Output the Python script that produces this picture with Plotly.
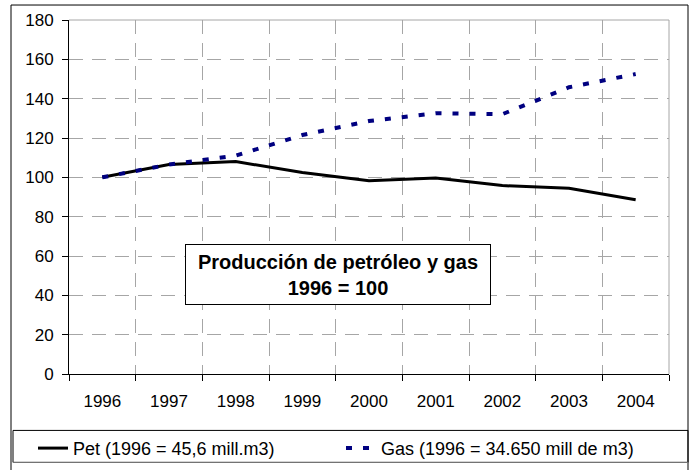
import plotly.graph_objects as go

# Production index, base year 1996 = 100
years = ["1996", "1997", "1998", "1999", "2000", "2001", "2002", "2003", "2004"]
pet = [100, 106.5, 108, 102.5, 98.3, 99.6, 95.8, 94.4, 88.6]
gas = [100, 106.5, 111, 121.5, 128.6, 132.6, 132.1, 145.8, 152.5]

pet_name = "Pet (1996 = 45,6 mill.m3)"
gas_name = "Gas (1996 = 34.650 mill de m3)"
box_title = "<b>Producción de petróleo y gas</b><br><b>1996 = 100</b>"

W, H = 691, 470
L, R, T, B = 69, 669, 20, 374.5   # plot area in page pixels


def px(x):
    return (x - L) / (R - L)


def py(y):
    return (B - y) / (B - T)


FONT = "Liberation Sans"
GRID = "#a6a6a6"

fig = go.Figure()
fig.add_trace(go.Scatter(x=years, y=pet, name=pet_name, mode="lines",
                         line=dict(color="black", width=3)))
fig.add_trace(go.Scatter(x=years, y=gas, name=gas_name, mode="lines",
                         line=dict(color="#000080", width=4, dash="6px,11px")))

shapes = [
    # outer chart frame
    dict(type="rect", xref="paper", yref="paper", x0=px(11), x1=px(688),
         y0=py(5), y1=py(485), line=dict(color="black", width=1)),
    # plot area border (top and right)
    dict(type="line", xref="paper", yref="paper", x0=0, x1=1, y0=1, y1=1,
         line=dict(color=GRID, width=1)),
    dict(type="line", xref="paper", yref="paper", x0=1, x1=1, y0=0, y1=1,
         line=dict(color=GRID, width=1)),
    # legend frame
    dict(type="rect", xref="paper", yref="paper", x0=px(13), x1=px(688),
         y0=py(463), y1=py(431), line=dict(color="black", width=1)),
    dict(type="line", xref="paper", yref="paper", x0=px(13), x1=px(688),
         y0=py(463), y1=py(463), line=dict(color="#808080", width=1)),
]

fig.add_annotation(
    text=box_title, xref="paper", yref="paper",
    x=px(338), y=py(274.5), xanchor="center", yanchor="middle",
    showarrow=False, align="center",
    width=304, height=59, borderpad=0,
    bordercolor="black", borderwidth=1, bgcolor="white",
    font=dict(family=FONT, size=20, color="black"),
)

fig.update_layout(
    width=W, height=H,
    margin=dict(l=L, r=W - R, t=T, b=H - B, pad=0, autoexpand=False),
    paper_bgcolor="white", plot_bgcolor="white",
    font=dict(family=FONT, size=17, color="black"),
    shapes=shapes,
    showlegend=True,
    legend=dict(orientation="h", x=px(33), y=py(449), xanchor="left",
                yanchor="middle", bgcolor="rgba(0,0,0,0)", borderwidth=0,
                entrywidth=263, entrywidthmode="pixels",
                font=dict(family=FONT, size=18, color="black"),
                traceorder="normal"),
    xaxis=dict(type="category", range=[-0.5, 8.5], tickson="boundaries",
               showline=True, linecolor="black", linewidth=1,
               ticks="outside", ticklen=6, tickcolor="black",
               showgrid=True, gridcolor=GRID, gridwidth=1, griddash="14px,9px",
               ticklabelstandoff=12, fixedrange=True),
    yaxis=dict(range=[0, 180], dtick=20, tick0=0,
               showline=True, linecolor="black", linewidth=1,
               ticks="outside", ticklen=6, tickcolor="black",
               showgrid=True, gridcolor=GRID, gridwidth=1, griddash="14px,9px",
               zeroline=False, ticklabelstandoff=5, fixedrange=True),
)

fig.write_html("out.html")
